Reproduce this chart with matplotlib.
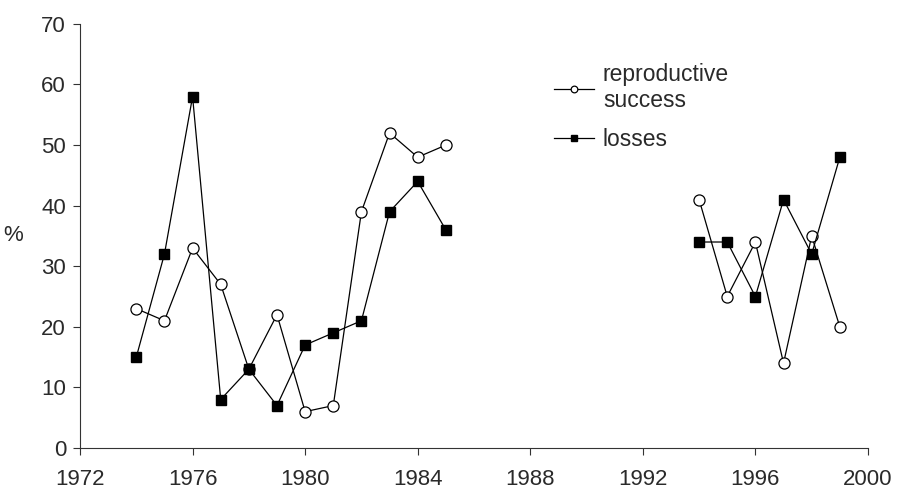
import numpy as np
import matplotlib.pyplot as plt

nan = np.nan
years = np.arange(1974, 2000)
success = [23, 21, 33, 27, 13, 22, 6, 7, 39, 52, 48, 50,
           nan, nan, nan, nan, nan, nan, nan, nan,
           41, 25, 34, 14, 35, 20]
losses = [15, 32, 58, 8, 13, 7, 17, 19, 21, 39, 44, 36,
          nan, nan, nan, nan, nan, nan, nan, nan,
          34, 34, 25, 41, 32, 48]

plt.rcParams['font.family'] = ['Liberation Sans', 'DejaVu Sans']
txt = '#2a2a2a'


def main():
    fig = plt.figure(figsize=(9, 4.88), dpi=100)
    ax = fig.add_axes([0.0889, 0.082, 0.8755, 0.869])

    ax.plot(years, success, color='black', lw=0.9, marker='o', ms=8,
            mfc='white', mec='black', mew=0.9, label='reproductive\nsuccess')
    ax.plot(years, losses, color='black', lw=0.9, marker='s', ms=7.5,
            mfc='black', mec='black', label='losses')

    ax.set_xlim(1972, 2000)
    ax.set_ylim(0, 70)
    ax.set_xticks(range(1972, 2001, 4))
    ax.set_yticks(range(0, 71, 10))
    for s in ['top', 'right']:
        ax.spines[s].set_visible(False)
    for s in ['left', 'bottom']:
        ax.spines[s].set_linewidth(0.8)
        ax.spines[s].set_color('#333333')
    ax.tick_params(direction='out', length=5, width=0.8, color='#333333',
                   labelsize=16, labelcolor=txt)
    ax.tick_params(axis='y', pad=5)
    ax.tick_params(axis='x', pad=10)
    ax.set_ylabel('%', fontsize=16, color=txt, rotation=0, labelpad=20,
                  va='center')

    leg = ax.legend(loc='upper left', bbox_to_anchor=(0.575, 0.957),
                    frameon=False, fontsize=16.5, handlelength=1.75,
                    handletextpad=0.4, markerscale=0.6, labelspacing=0.7)
    for t in leg.get_texts():
        t.set_color(txt)

    plt.savefig('out.png', dpi=100)


if __name__ == '__main__':
    main()
